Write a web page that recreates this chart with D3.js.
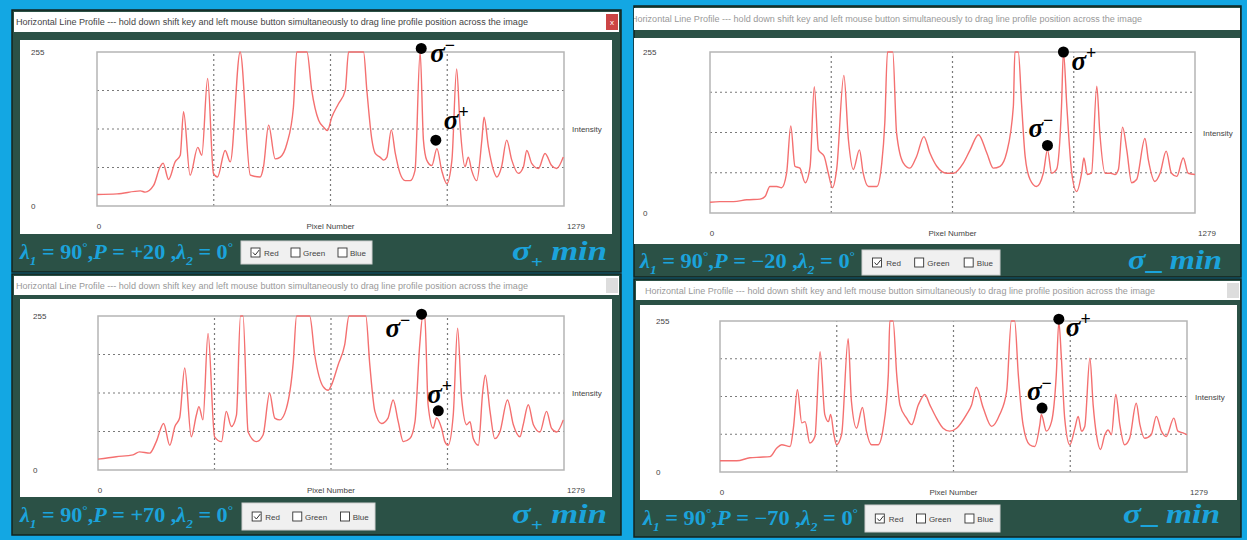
<!DOCTYPE html>
<html>
<head>
<meta charset="utf-8">
<script src="https://cdn.jsdelivr.net/npm/d3@7"></script>
<style>
  body { margin: 0; background: #13a7e3; }
  svg { display: block; }
</style>
</head>
<body>
<script>
// Line profiles (pixel number / intensity)
var px20 = [0,55,119,132,155,173,181,196,214,228,237,255,276,287,303,319,330,351,365,392,420,447,456,470,488,502,520,538,547,575,588,607,620,631,643,661,680,689,730,739,753,762,775,785,794,806,817,830,844,858,871,885,894,903,917,931,944,958,972,985,994,1008,1017,1026,1040,1054,1060,1072,1086,1095,1108,1122,1136,1154,1168,1177,1191,1209,1227,1245,1259,1277];
var in20 = [19,20,25,23,34,65,71,44,73,84,156,51,97,84,211,54,48,92,73,255,51,48,65,134,78,81,103,164,255,255,192,142,131,125,147,169,192,255,255,192,109,87,81,76,81,126,87,54,42,42,59,255,109,76,67,95,59,37,76,227,136,65,81,59,42,109,147,98,59,48,65,109,76,54,65,92,70,62,87,67,62,81];

var pxM20 = [0,26,62,97,132,145,158,176,189,202,213,224,237,251,264,275,286,301,312,323,334,353,365,378,394,404,418,440,453,461,468,482,492,510,527,545,564,580,598,624,642,668,686,708,730,747,765,782,800,804,813,822,831,844,861,879,890,901,914,927,932,941,954,967,980,986,995,1006,1020,1028,1042,1057,1068,1077,1088,1099,1112,1125,1147,1156,1173,1187,1203,1217,1231,1248,1261,1279];
var inM20 = [17,18,18,21,22,26,42,42,40,63,138,74,71,48,74,200,100,90,63,40,69,218,116,69,100,63,42,42,79,143,255,255,127,79,71,90,121,95,74,63,63,79,100,124,95,71,74,95,169,255,255,169,90,53,42,63,100,63,69,169,255,169,63,34,63,87,61,63,201,127,63,63,61,69,136,100,48,53,118,84,50,63,98,63,58,87,63,61];

var px70 = [0,50,96,114,142,160,180,197,211,224,238,256,270,277,288,302,320,339,352,366,380,391,398,412,435,453,471,485,499,517,536,545,581,595,618,632,641,659,677,689,735,746,760,778,796,810,824,838,856,870,883,891,897,906,920,929,943,952,961,975,987,998,1012,1021,1030,1044,1056,1063,1076,1089,1103,1124,1140,1158,1167,1181,1195,1213,1231,1245,1259,1277];
var in70 = [18,22,25,30,28,47,77,41,72,86,169,55,91,105,83,226,55,47,97,72,91,255,255,63,47,58,127,86,83,102,179,255,255,190,138,132,141,174,207,255,255,174,97,77,86,116,80,47,52,80,207,253,251,108,69,86,69,47,41,91,235,119,75,80,52,41,130,157,97,52,63,116,75,55,75,108,75,63,97,69,63,83];

var pxM70 = [0,46,82,109,137,155,169,192,201,212,224,233,246,260,274,287,297,303,312,319,333,351,360,374,390,401,415,433,447,461,465,474,484,493,511,525,543,561,575,593,611,629,648,675,689,702,721,744,766,785,798,807,817,830,848,862,876,880,894,908,921,928,935,944,958,972,981,990,999,1013,1022,1031,1042,1054,1063,1072,1084,1095,1108,1122,1140,1150,1163,1181,1195,1209,1222,1243,1254,1268,1279];
var inM70 = [19,19,24,25,26,40,46,43,74,139,83,85,49,60,203,97,85,97,63,46,63,225,119,74,109,69,46,46,74,164,255,255,164,113,91,80,113,131,113,91,74,69,74,97,113,143,108,77,97,136,255,255,164,80,46,43,80,97,69,85,164,254,192,91,46,74,94,69,77,192,113,63,38,63,71,63,131,80,46,57,116,80,57,63,94,69,60,91,69,66,63];

// marked sigma peaks [pixel, intensity]
var sgM20 = [888, 261], sgP20 = [928, 109];
var sgPm20 = [932, 255], sgMm20 = [890, 107];
var sgM70 = [888, 258], sgP70 = [934, 98];
var sgPm70 = [928, 258], sgMm70 = [882, 108];

var pValues = ['+20', '\u221220', '+70', '\u221270'];
var yTickLabels = ['255', '0'];
var xTickLabels = ['0', 'Pixel Number', '1279'];
var gridX = [319.75, 639.5, 959.25];
var gridY = [63.75, 127.5, 191.25];
var channels = ['Red', 'Green', 'Blue'];
var title = 'Horizontal Line Profile --- hold down shift key and left mouse button simultaneously to drag line profile position across the image';

var GREEN = '#2b5146', LINE = '#f47070', TBLUE = '#1ba3db';

var svg = d3.select('body').append('svg')
  .attr('width', 1247)
  .attr('height', 540);

svg.append('rect').attr('width', 1247).attr('height', 540).attr('fill', '#13a7e3');

var panels = [
  {px: px20, iv: in20, p: pValues[0], plus: true, first: sgM20, second: sgP20, firstTxt: '\u2212', secondTxt: '+',
   frame: [12, 10, 609, 262], bar: [14, 12, 605, 20], titleX: 16, titleLen: 512, titleCol: '#444', close: '#cc4545',
   win: [20, 40, 592, 194], box: [97, 52, 467, 154], yLabX: 31, lam: [20, 259, 213], sig: [607, 260, 95],
   chk: [241, 241, 131, 23], off1: [9, 14], off2: [8, -11]},
  {px: pxM20, iv: inM20, p: pValues[1], plus: false, first: sgPm20, second: sgMm20, firstTxt: '+', secondTxt: '\u2212',
   frame: [634, 6, 607, 271], bar: [634, 8, 606, 22], titleX: 631, titleLen: 511, titleCol: '#999', close: null,
   win: [634, 38, 606, 206], box: [710, 52, 485, 161], yLabX: 643, lam: [640, 268, 215], sig: [1222, 269, 94],
   chk: [862, 250, 138, 25], off1: [8, 18], off2: [-19, -8]},
  {px: px70, iv: in70, p: pValues[2], plus: true, first: sgM70, second: sgP70, firstTxt: '\u2212', secondTxt: '+',
   frame: [12, 274, 609, 261], bar: [14, 276, 605, 19], titleX: 16, titleLen: 512, titleCol: '#999', close: '#dddddd',
   win: [20, 299, 592, 198], box: [98, 316, 466, 154], yLabX: 33, lam: [20, 522, 213], sig: [607, 523, 95],
   chk: [242, 503, 133, 27], off1: [-36, 23], off2: [-11, -8]},
  {px: pxM70, iv: inM70, p: pValues[3], plus: false, first: sgPm70, second: sgMm70, firstTxt: '+', secondTxt: '\u2212',
   frame: [634, 279, 607, 258], bar: [636, 281, 604, 19], titleX: 645, titleLen: 510, titleCol: '#999', close: '#dddddd',
   win: [640, 305, 597, 195], box: [720, 321, 467, 151], yLabX: 656, lam: [643, 525, 215], sig: [1220, 523, 97],
   chk: [865, 505, 135, 27], off1: [7, 17], off2: [-15, -8]}
];

function richText(g, x, y, parts, size, len) {
  var t = g.append('text')
    .attr('x', x).attr('y', y)
    .attr('font-family', '"Liberation Serif", "DejaVu Serif", serif')
    .attr('font-weight', 'bold')
    .attr('font-size', size)
    .attr('fill', TBLUE);
  var shift = 0;
  parts.forEach(function(p) {
    var s = p[1] === 'sub' ? size * 0.28 : p[1] === 'sup' ? -size * 0.42 : 0;
    t.append('tspan')
      .attr('dy', s - shift)
      .attr('font-size', p[1] === 'sub' || p[1] === 'sup' ? size * 0.6 : size)
      .attr('font-style', p[1] === 'i' || p[1] === 'sub' ? 'italic' : 'normal')
      .text(p[0]);
    shift = s;
  });
  if (len) t.attr('textLength', len).attr('lengthAdjust', 'spacingAndGlyphs');
  return t;
}

panels.forEach(function(c, k) {
  var g = svg.append('g');

  g.append('rect')
    .attr('x', c.frame[0]).attr('y', c.frame[1])
    .attr('width', c.frame[2]).attr('height', c.frame[3])
    .attr('fill', GREEN).attr('stroke', '#13241f').attr('stroke-width', 1.5);

  // window title bar
  g.append('clipPath').attr('id', 'tb' + k).append('rect')
    .attr('x', c.bar[0]).attr('y', c.bar[1]).attr('width', c.bar[2]).attr('height', c.bar[3]);
  g.append('rect')
    .attr('x', c.bar[0]).attr('y', c.bar[1]).attr('width', c.bar[2]).attr('height', c.bar[3])
    .attr('fill', '#fff');
  g.append('text')
    .attr('clip-path', 'url(#tb' + k + ')')
    .attr('x', c.titleX).attr('y', c.bar[1] + c.bar[3] / 2 + 3)
    .attr('font-family', '"Liberation Sans", Arial, sans-serif')
    .attr('font-size', 8.5)
    .attr('fill', c.titleCol)
    .attr('textLength', c.titleLen).attr('lengthAdjust', 'spacingAndGlyphs')
    .text(title);
  if (c.close) {
    var bx = c.bar[0] + c.bar[2] - 13;
    g.append('rect')
      .attr('x', bx).attr('y', c.bar[1] + 2).attr('width', 12).attr('height', c.bar[3] - 4)
      .attr('fill', c.close);
    if (c.close !== '#dddddd') {
      g.append('text').attr('x', bx + 6).attr('y', c.bar[1] + c.bar[3] / 2 + 3)
        .attr('text-anchor', 'middle').attr('font-size', 8).attr('fill', '#fff')
        .attr('font-family', 'sans-serif').text('x');
    }
  }

  // plot window
  g.append('rect')
    .attr('x', c.win[0]).attr('y', c.win[1]).attr('width', c.win[2]).attr('height', c.win[3])
    .attr('fill', '#fff');

  var x = d3.scaleLinear().domain([0, 1279]).range([c.box[0], c.box[0] + c.box[2]]);
  var y = d3.scaleLinear().domain([0, 255]).range([c.box[1] + c.box[3], c.box[1]]);

  g.selectAll(null).data(gridX).enter().append('line')
    .attr('x1', function(d) { return x(d); }).attr('x2', function(d) { return x(d); })
    .attr('y1', y(0)).attr('y2', y(255))
    .attr('stroke', '#7a7a7a').attr('stroke-width', 1.2).attr('stroke-dasharray', '2,3');
  g.selectAll(null).data(gridY).enter().append('line')
    .attr('y1', function(d) { return y(d); }).attr('y2', function(d) { return y(d); })
    .attr('x1', x(0)).attr('x2', x(1279))
    .attr('stroke', '#7a7a7a').attr('stroke-width', 1.2).attr('stroke-dasharray', '2,3');

  g.append('rect')
    .attr('x', x(0)).attr('y', y(255)).attr('width', x(1279) - x(0)).attr('height', y(0) - y(255))
    .attr('fill', 'none').attr('stroke', '#b5b5b5').attr('stroke-width', 1.5);

  var small = function(sel) {
    return sel.attr('font-family', '"Liberation Sans", Arial, sans-serif')
      .attr('font-size', 8).attr('fill', '#444');
  };
  small(g.selectAll(null).data(yTickLabels).enter().append('text'))
    .attr('x', c.yLabX)
    .attr('y', function(d) { return y(+d) + 3; })
    .text(function(d) { return d; });
  small(g.selectAll(null).data(xTickLabels).enter().append('text'))
    .attr('text-anchor', 'middle')
    .attr('x', function(d, i) { return i === 0 ? x(0) + 2 : i === 1 ? x(639.5) : x(1279) + 12; })
    .attr('y', y(0) + 23)
    .text(function(d) { return d; });
  small(g.append('text'))
    .attr('x', x(1279) + 8).attr('y', y(127.5) + 3)
    .text('Intensity');

  // profile line
  g.append('clipPath').attr('id', 'cp' + k).append('rect')
    .attr('x', x(0)).attr('y', y(255) - 1).attr('width', x(1279) - x(0)).attr('height', y(0) - y(255) + 1);
  var line = d3.line()
    .x(function(d) { return x(d[0]); })
    .y(function(d) { return y(d[1]); })
    .curve(d3.curveMonotoneX);
  g.append('path')
    .datum(d3.zip(c.px, c.iv))
    .attr('clip-path', 'url(#cp' + k + ')')
    .attr('d', line)
    .attr('fill', 'none')
    .attr('stroke', LINE)
    .attr('stroke-width', 1.4);

  // sigma markers
  [[c.first, c.firstTxt, c.off1], [c.second, c.secondTxt, c.off2]].forEach(function(m) {
    var cx = x(m[0][0]), cy = y(m[0][1]);
    g.append('circle').attr('cx', cx).attr('cy', cy).attr('r', 5.5).attr('fill', '#000');
    var t = g.append('text')
      .attr('x', cx + m[2][0]).attr('y', cy + m[2][1])
      .attr('font-family', '"Liberation Serif", "DejaVu Serif", serif')
      .attr('font-weight', 'bold').attr('font-size', 27).attr('fill', '#000');
    t.append('tspan').attr('font-style', 'italic').text('\u03c3');
    t.append('tspan').attr('dy', -11).attr('font-size', 18).text(m[1]);
  });

  // bottom bar: parameters
  var lamParts = [['\u03bb', 'i'], ['1', 'sub'], [' = 90', ''], ['\u00b0', 'sup'], [',', ''], ['P', 'i'],
    [' = ' + c.p + ' ,', ''], ['\u03bb', 'i'], ['2', 'sub'], [' = 0', ''], ['\u00b0', 'sup']];
  richText(g, c.lam[0], c.lam[1], lamParts, 20, c.lam[2]);

  var sigParts = c.plus
    ? [['\u03c3', 'i'], ['+', 'sub'], ['  ', ''], ['min', 'i']]
    : [['\u03c3', 'i'], ['_', ''], [' ', ''], ['min', 'i']];
  richText(g, c.sig[0] - c.sig[2], c.sig[1], sigParts, 27, c.sig[2]);

  // channel check boxes
  var s = c.chk[2] / 131;
  g.append('rect')
    .attr('x', c.chk[0]).attr('y', c.chk[1]).attr('width', c.chk[2]).attr('height', c.chk[3])
    .attr('fill', '#f0f0f0').attr('stroke', '#d0d0d0');
  var cyc = c.chk[1] + c.chk[3] / 2;
  var boxX = [10, 50, 97], labX = [23, 62, 109];
  channels.forEach(function(name, i) {
    var bx0 = c.chk[0] + boxX[i] * s;
    g.append('rect').attr('x', bx0).attr('y', cyc - 4.5).attr('width', 9).attr('height', 9)
      .attr('fill', '#fff').attr('stroke', '#333').attr('stroke-width', 0.9);
    if (i === 0) {
      g.append('path')
        .attr('d', 'M' + (bx0 + 2) + ',' + cyc + 'l2.2,2.5l4,-5')
        .attr('fill', 'none').attr('stroke', '#333').attr('stroke-width', 1);
    }
    small(g.append('text'))
      .attr('x', c.chk[0] + labX[i] * s).attr('y', cyc + 3)
      .text(name);
  });
});
</script>
</body>
</html>
